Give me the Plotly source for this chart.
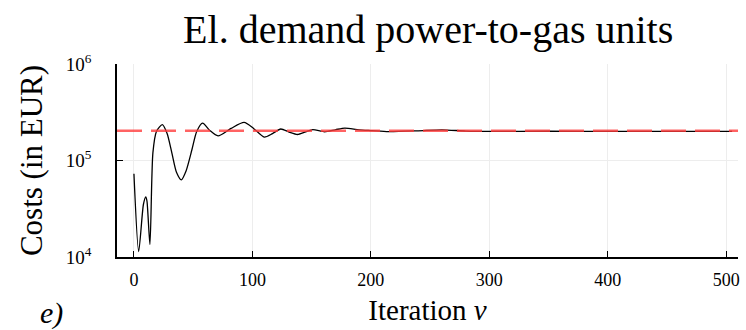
import plotly.graph_objects as go

# Data
iterations = [0, 4, 8, 10, 11, 13.5, 16, 19, 24, 28, 32, 36, 40, 44, 49, 53, 58, 64, 71,
              82, 93, 101, 110, 117, 124, 131, 138, 145, 151, 161, 170, 178, 190, 201,
              215, 240, 260, 280, 300, 350, 400, 450, 505]
costs = [7.3e4, 1.14e4, 3.5e4, 4.2e4, 3.8e4, 1.35e4, 1.2e5, 2.0e5, 2.35e5, 1.9e5, 1.2e5,
         7.5e4, 6.3e4, 7.8e4, 1.3e5, 2.0e5, 2.44e5, 2.05e5, 1.8e5,
         2.15e5, 2.48e5, 2.15e5, 1.75e5, 1.9e5, 2.12e5, 1.97e5, 1.86e5, 1.98e5, 2.09e5,
         1.98e5, 2.08e5, 2.17e5, 2.08e5, 2.04e5, 1.99e5, 2.03e5, 2.08e5, 2.02e5, 2.0e5,
         2.01e5, 2.0e5, 2.0e5, 2.0e5]
reference_cost = 2.03e5
x_ticks = [0, 100, 200, 300, 400, 500]
y_ticks = [1e4, 1e5, 1e6]
y_tick_text = ["10<sup>4</sup>", "10<sup>5</sup>", "10<sup>6</sup>"]

FONT = "'Liberation Serif', 'DejaVu Serif', serif"

fig = go.Figure()
fig.add_trace(go.Scatter(
    x=iterations, y=costs, mode="lines",
    line=dict(color="black", width=1.3, shape="spline", smoothing=0.7),
    showlegend=False, hoverinfo="skip"))
fig.add_hline(y=reference_cost, line=dict(color="rgba(255,60,60,0.8)", width=2.5, dash="25px,9px"))

fig.update_layout(
    width=746, height=330,
    margin=dict(l=117, r=6, t=64, b=73),
    paper_bgcolor="white", plot_bgcolor="white",
    font=dict(family=FONT, color="black"),
    title=dict(text="El. demand power-to-gas units", x=0.574, xanchor="center",
               y=0.87, yanchor="bottom", font=dict(size=40, family=FONT)),
    showlegend=False,
)
fig.update_xaxes(
    range=[-14.3, 510], tickvals=x_ticks, ticks="inside", ticklen=6, tickcolor="black",
    showline=True, linecolor="black", linewidth=1.5, mirror=False,
    showgrid=True, gridcolor="#ededed", gridwidth=1, zeroline=False,
    tickfont=dict(size=18, family=FONT), ticklabelstandoff=6,
    title=dict(text="Iteration <i>ν</i>", font=dict(size=29, family=FONT), standoff=10),
)
fig.update_yaxes(
    type="log", range=[4, 6], tickvals=y_ticks, ticktext=y_tick_text,
    ticks="inside", ticklen=6, tickcolor="black",
    showline=True, linecolor="black", linewidth=1.5,
    showgrid=True, gridcolor="#ededed", gridwidth=1, zeroline=False,
    tickfont=dict(size=19, family=FONT), ticklabelstandoff=20,
    title=dict(text="Costs (in EUR)", font=dict(size=31, family=FONT), standoff=14),
)
fig.add_annotation(text="<i>e)</i>", xref="paper", yref="paper", x=-0.105, y=-0.29,
                   xanchor="center", yanchor="middle", showarrow=False,
                   font=dict(size=30, family=FONT))
fig.write_html("out.html")
